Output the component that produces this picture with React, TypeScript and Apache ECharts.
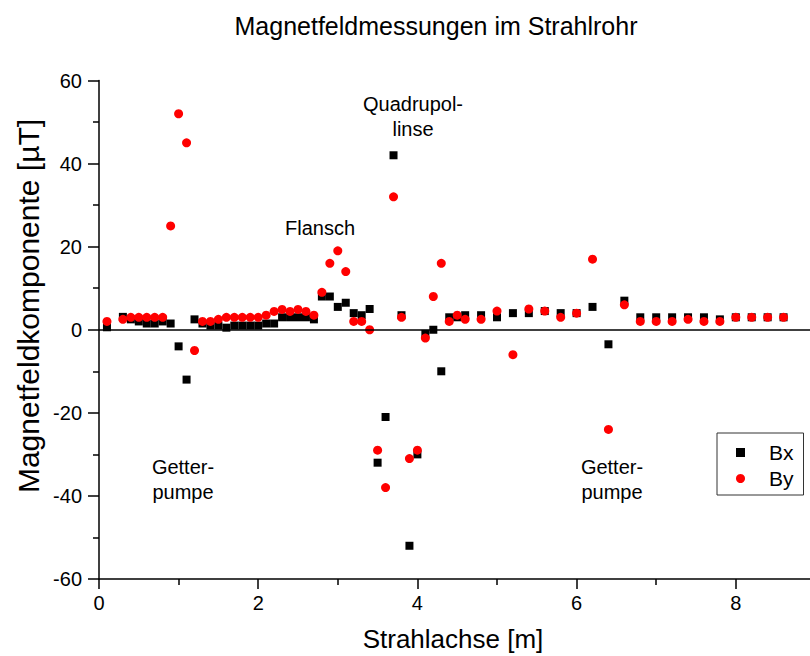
import React, { useEffect, useRef } from "react";
import * as echarts from "echarts";

const positions = [0.1, 0.3, 0.4, 0.5, 0.6, 0.7, 0.8, 0.9, 1.0, 1.1, 1.2, 1.3, 1.4, 1.5, 1.6, 1.7, 1.8, 1.9, 2.0, 2.1, 2.2, 2.3, 2.4, 2.5, 2.6, 2.7, 2.8, 2.9, 3.0, 3.1, 3.2, 3.3, 3.4, 3.5, 3.6, 3.7, 3.8, 3.9, 4.0, 4.1, 4.2, 4.3, 4.4, 4.5, 4.6, 4.8, 5.0, 5.2, 5.4, 5.6, 5.8, 6.0, 6.2, 6.4, 6.6, 6.8, 7.0, 7.2, 7.4, 7.6, 7.8, 8.0, 8.2, 8.4, 8.6];

const bxValues = [0.6, 3.1, 2.5, 2, 1.5, 1.5, 2, 1.5, -4, -12, 2.5, 1.5, 1, 1, 0.5, 1, 1, 1, 1, 1.5, 1.5, 3, 3, 3, 3, 2.5, 8, 8, 5.5, 6.5, 4, 3.5, 5, -32, -21, 42, 3.5, -52, -30, -1, 0, -10, 3, 3, 3.5, 3.5, 3, 4, 4, 4.5, 4, 4, 5.5, -3.5, 7, 3, 3, 3, 3, 3, 2.5, 3, 3, 3, 3];

const byValues = [2, 2.5, 3, 3, 3, 3, 3, 25, 52, 45, -5, 2, 2, 2.5, 3, 3, 3, 3, 3, 3.5, 4.4, 4.9, 4.4, 4.9, 4.4, 3.5, 9, 16, 19, 14, 2, 2, 0, -29, -38, 32, 3, -31, -29, -2, 8, 16, 2, 3.5, 2.5, 2.5, 4.5, -6, 5, 4.5, 3, 4, 17, -24, 6, 2, 2, 2, 2.5, 2, 2, 3, 3, 3, 3];

const seriesNames = ["Bx", "By"];
const xTicks = [0, 2, 4, 6, 8];
const yTicks = [-60, -40, -20, 0, 20, 40, 60];

const titleText = "Magnetfeldmessungen im Strahlrohr";
const xName = "Strahlachse [m]";
const yName = "Magnetfeldkomponente [µT]";
const annotations = [
  { text: "Quadrupol-\nlinse", x: 413, y: 116 },
  { text: "Flansch", x: 320, y: 228 },
  { text: "Getter-\npumpe", x: 183, y: 479 },
  { text: "Getter-\npumpe", x: 612, y: 479 },
];

const FONT = "'Liberation Sans', Arial, sans-serif";

export default function App() {
  const ref = useRef<HTMLDivElement>(null);
  useEffect(() => {
    if (!ref.current) return;
    const chart = echarts.init(ref.current, null, { renderer: "svg" });
    const bx = positions.map((x, i) => [x, bxValues[i]]);
    const by = positions.map((x, i) => [x, byValues[i]]);
    chart.setOption({
      animation: false,
      backgroundColor: "#ffffff",
      textStyle: { fontFamily: FONT },
      grid: {
        left: 99,
        top: 80.5,
        bottom: 77,
        right: -85,
        outerBoundsMode: "none",
        containLabel: false,
      },
      legend: {
        orient: "vertical",
        left: 717,
        top: 433,
        width: 84,
        backgroundColor: "#fff",
        borderColor: "#333",
        borderWidth: 1,
        padding: [9, 10, 6, 19],
        itemGap: 5,
        itemWidth: 9,
        itemHeight: 9,
        textStyle: { fontFamily: FONT, fontSize: 21, color: "#000", padding: [0, 0, 0, 19] },
        data: [
          { name: seriesNames[0], icon: "rect" },
          { name: seriesNames[1], icon: "circle" },
        ],
      },
      xAxis: {
        type: "value",
        min: 0,
        max: 10,
        interval: 2,
        splitLine: { show: false },
        axisLine: { onZero: false, lineStyle: { color: "#000", width: 1.5 } },
        axisTick: { inside: false, length: 10, lineStyle: { color: "#000", width: 1.5 } },
        minorTick: { show: true, splitNumber: 2, length: 6, lineStyle: { color: "#000", width: 1.5 } },
        axisLabel: {
          color: "#000",
          fontSize: 20,
          fontFamily: FONT,
          margin: 14,
          formatter: (v: number) => (xTicks.includes(v) ? String(v) : ""),
        },
      },
      yAxis: {
        type: "value",
        min: -60,
        max: 60,
        interval: 20,
        splitLine: { show: false },
        axisLine: { onZero: false, lineStyle: { color: "#000", width: 1.5 } },
        axisTick: { inside: false, length: 11, lineStyle: { color: "#000", width: 1.5 } },
        minorTick: { show: true, splitNumber: 2, length: 6, lineStyle: { color: "#000", width: 1.5 } },
        axisLabel: {
          color: "#000",
          fontSize: 20,
          fontFamily: FONT,
          margin: 17,
          formatter: (v: number) => (yTicks.includes(v) ? String(v) : ""),
        },
      },
      graphic: [
        {
          type: "text",
          x: 436,
          y: 26,
          style: {
            text: titleText,
            font: `25px ${FONT}`,
            fill: "#000",
            textAlign: "center",
            textVerticalAlign: "middle",
          },
        },
        {
          type: "text",
          x: 453,
          y: 639,
          style: {
            text: xName,
            font: `26px ${FONT}`,
            fill: "#000",
            textAlign: "center",
            textVerticalAlign: "middle",
          },
        },
        {
          type: "text",
          x: 28,
          y: 306,
          rotation: Math.PI / 2,
          style: {
            text: yName,
            font: `30px ${FONT}`,
            fill: "#000",
            textAlign: "center",
            textVerticalAlign: "middle",
          },
        },
        ...annotations.map((a) => ({
          type: "text",
          x: a.x,
          y: a.y,
          z: 10,
          style: {
            text: a.text,
            font: `20px ${FONT}`,
            lineHeight: 25,
            fill: "#000",
            textAlign: "center",
            textVerticalAlign: "middle",
          },
        })),
      ],
      series: [
        {
          name: seriesNames[0],
          type: "scatter",
          symbol: "rect",
          symbolSize: 8,
          itemStyle: { color: "#000", opacity: 1 },
          data: bx,
          markLine: {
            silent: true,
            symbol: "none",
            label: { show: false },
            lineStyle: { color: "#000", width: 1.5, type: "solid" },
            data: [{ yAxis: 0 }],
          },
        },
        {
          name: seriesNames[1],
          type: "scatter",
          symbol: "circle",
          symbolSize: 9,
          itemStyle: { color: "#ff0000", opacity: 1 },
          data: by,
        },
      ],
    });
    return () => chart.dispose();
  }, []);
  return (
    <div
      ref={ref}
      style={{ position: "absolute", left: 0, top: 0, width: 810, height: 656 }}
    />
  );
}
